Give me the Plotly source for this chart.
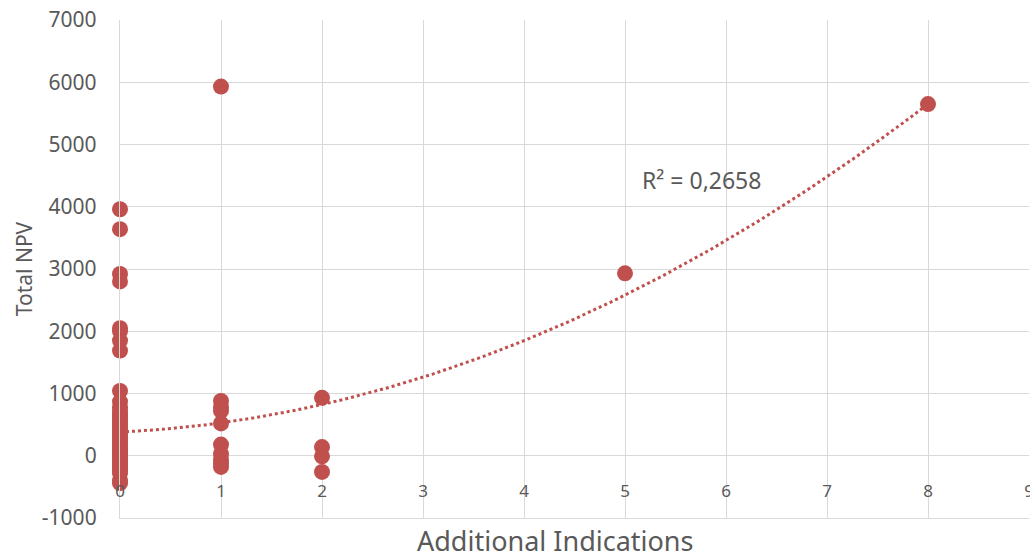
import numpy as np
import plotly.graph_objects as go

# Data
x0_vals = [3960, 3640, 2920, 2800, 2050, 2000, 1850, 1690, 1040, 870, 780, 720, 680, 640,
           600, 560, 520, 480, 440, 400, 360, 320, 280, 240, 200, 160, 120, 80, 40, 0,
           -40, -80, -120, -160, -200, -240, -280, -400, -440]
x1_vals = [5930, 880, 780, 720, 520, 180, 30, -60, -120, -180]
x2_vals = [930, 140, -10, -260]
x5_vals = [2930]
x8_vals = [5650]

additional = ([0] * len(x0_vals) + [1] * len(x1_vals) + [2] * len(x2_vals)
              + [5] * len(x5_vals) + [8] * len(x8_vals))
npv = x0_vals + x1_vals + x2_vals + x5_vals + x8_vals

# order-2 polynomial trendline as drawn in the picture (c0, c1, c2)
trend_coef = [380, 75.5, 72.9]
trend_x = [0, 8]

x_ticks = list(range(0, 10))
y_ticks = list(range(-1000, 8000, 1000))
y_tick_labels = ["-1000", "0", "1000", "2000", "3000", "4000", "5000", "6000", "7000"]
r2_label = "R² = 0,2658"
x_title = "Additional Indications"
y_title = "Total NPV"

red = "#C0504D"
grey_txt = "#595959"
grid = "#D9D9D9"

tx = np.linspace(trend_x[0], trend_x[1], 200)
ty = trend_coef[0] + trend_coef[1] * tx + trend_coef[2] * tx ** 2

fig = go.Figure()
fig.add_trace(go.Scatter(x=tx, y=ty, mode="lines",
                         line=dict(color=red, width=3, dash="dot"),
                         hoverinfo="skip", showlegend=False))
fig.add_trace(go.Scatter(x=additional, y=npv, mode="markers",
                         marker=dict(color=red, size=16),
                         cliponaxis=False, showlegend=False))
# invisible trace carrying the tick-label axis
fig.add_trace(go.Scatter(x=[0, 9], y=[None, None], xaxis="x2", yaxis="y",
                         mode="markers", marker=dict(opacity=0),
                         hoverinfo="skip", showlegend=False))

fig.add_annotation(x=5.76, y=4430, text=r2_label, showarrow=False,
                   xref="x", yref="y", font=dict(size=23, color=grey_txt,
                                                 family="Noto Sans"))
fig.add_annotation(x=0.4785, y=-0.0442, text=x_title, showarrow=False,
                   xref="paper", yref="paper", yanchor="middle",
                   font=dict(size=27, color=grey_txt, family="Noto Sans"))

fig.update_layout(
    width=1030, height=555,
    margin=dict(l=120, r=1, t=20, b=37),
    plot_bgcolor="white", paper_bgcolor="white",
    font=dict(family="Noto Sans", color=grey_txt),
    xaxis=dict(range=[0, 9], tickvals=x_ticks, showgrid=True, gridcolor=grid,
               gridwidth=1.3, zeroline=False, showline=True, linecolor=grid,
               linewidth=1.3, showticklabels=False, automargin=False),
    xaxis2=dict(range=[0, 9], tickvals=x_ticks, overlaying="x", anchor="free",
                position=0.078, showgrid=False, zeroline=False, showline=False,
                automargin=False, ticklabeloverflow="allow",
                tickfont=dict(size=17, color=grey_txt)),
    yaxis=dict(range=[-1000, 7000], tickvals=y_ticks, ticktext=y_tick_labels,
               showgrid=True, gridcolor=grid,
               gridwidth=1.3, zeroline=False, showline=True, linecolor=grid,
               linewidth=1.3, ticklabelstandoff=18, automargin=False,
               tickfont=dict(size=21, color=grey_txt),
               title=dict(text=y_title, font=dict(size=21, color=grey_txt),
                          standoff=3)),
)

fig.write_html("out.html", config={"displayModeBar": False},
               post_script="document.body.style.margin='0';document.body.style.overflow='hidden';")
